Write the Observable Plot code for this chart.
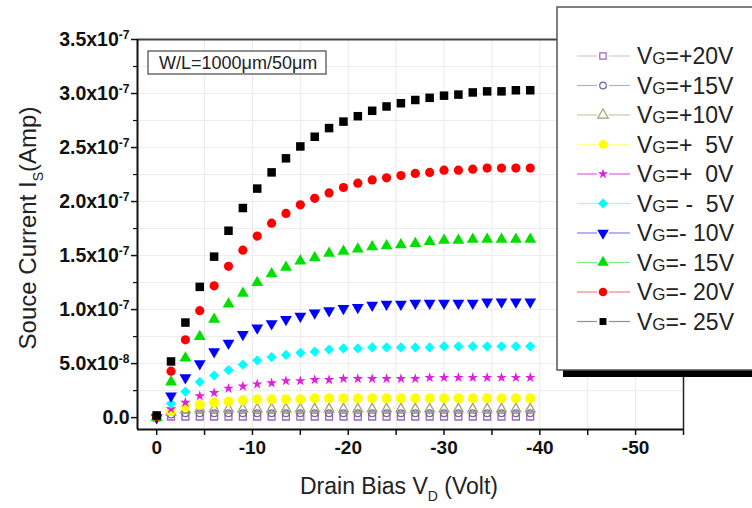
<!DOCTYPE html>
<html><head><meta charset="utf-8">
<script src="https://cdn.jsdelivr.net/npm/d3@7"></script>
<script src="https://cdn.jsdelivr.net/npm/@observablehq/plot@0.6"></script>
<style>
html,body{margin:0;padding:0;background:#fff;overflow:hidden;}
#chart{width:752px;height:508px;}
</style>
</head><body><div id="chart"></div>
<script>
// Drain bias (V)
const drainBias = [0,-1.5,-3,-4.5,-6,-7.5,-9,-10.5,-12,-13.5,-15,-16.5,-18,-19.5,-21,-22.5,-24,-25.5,-27,-28.5,-30,-31.5,-33,-34.5,-36,-37.5,-39];
// Source current, units of 1e-7 A
const vgP20 = [0.00,0.01,0.01,0.01,0.01,0.01,0.01,0.01,0.01,0.01,0.01,0.01,0.01,0.01,0.01,0.01,0.01,0.01,0.01,0.01,0.01,0.01,0.01,0.01,0.01,0.01,0.01];
const vgP15 = [0.00,0.03,0.04,0.04,0.04,0.04,0.04,0.04,0.04,0.04,0.04,0.04,0.04,0.04,0.04,0.04,0.04,0.04,0.04,0.04,0.04,0.04,0.04,0.04,0.04,0.04,0.04];
const vgP10 = [0.00,0.05,0.07,0.08,0.08,0.08,0.08,0.08,0.08,0.08,0.08,0.08,0.08,0.08,0.08,0.08,0.08,0.08,0.08,0.08,0.08,0.08,0.08,0.08,0.08,0.08,0.08];
const vgP5  = [0.00,0.06,0.10,0.12,0.14,0.15,0.16,0.17,0.17,0.17,0.17,0.18,0.18,0.18,0.18,0.18,0.18,0.18,0.18,0.18,0.18,0.18,0.18,0.18,0.18,0.18,0.18];
const vg0   = [0.00,0.08,0.14,0.20,0.23,0.27,0.29,0.31,0.32,0.34,0.34,0.35,0.35,0.36,0.36,0.36,0.36,0.36,0.36,0.37,0.37,0.37,0.37,0.37,0.37,0.37,0.37];
const vgM5  = [0.00,0.13,0.24,0.33,0.39,0.44,0.49,0.53,0.56,0.58,0.60,0.61,0.63,0.64,0.64,0.65,0.65,0.65,0.65,0.65,0.66,0.66,0.66,0.66,0.66,0.66,0.66];
const vgM10 = [0.00,0.20,0.37,0.50,0.61,0.69,0.77,0.83,0.87,0.91,0.94,0.97,0.99,1.01,1.02,1.04,1.05,1.05,1.06,1.06,1.06,1.06,1.06,1.07,1.07,1.07,1.07];
const vgM15 = [0.00,0.33,0.55,0.75,0.91,1.05,1.15,1.25,1.33,1.39,1.45,1.48,1.52,1.54,1.56,1.58,1.59,1.60,1.61,1.63,1.64,1.64,1.65,1.65,1.65,1.65,1.65];
const vgM20 = [0.01,0.43,0.72,0.99,1.22,1.40,1.55,1.68,1.80,1.89,1.97,2.03,2.08,2.13,2.17,2.20,2.22,2.24,2.26,2.27,2.29,2.29,2.30,2.31,2.31,2.31,2.31];
const vgM25 = [0.02,0.52,0.88,1.21,1.49,1.73,1.94,2.12,2.27,2.40,2.51,2.60,2.68,2.74,2.79,2.84,2.88,2.91,2.94,2.96,2.98,2.99,3.01,3.02,3.02,3.03,3.03];

const seriesValues = [vgP20, vgP15, vgP10, vgP5, vg0, vgM5, vgM10, vgM15, vgM20, vgM25];
const seriesNames  = ["+20V", "+15V", "+10V", "+  5V", "+  0V", " -  5V", "- 10V", "- 15V", "- 20V", "- 25V"];

const xTicks = [0,-5,-10,-15,-20,-25,-30,-35,-40,-45,-50,-55];
const xTickLabels = ["0","","-10","","-20","","-30","","-40","","-50",""];
const yTicks = [0,0.5,1.0,1.5,2.0,2.5,3.0,3.5];
const yMinorTicks = [0.25,0.75,1.25,1.75,2.25,2.75,3.25];
const yTickLabels = ["0.0","5.0x10^-8","1.0x10^-7","1.5x10^-7","2.0x10^-7","2.5x10^-7","3.0x10^-7","3.5x10^-7"];
const yGrid = [0.25,0.5,0.75,1.0,1.25,1.5,1.75,2.0,2.25,2.5,2.75,3.0,3.25];
const xGrid = [-5,-10,-15,-20,-25,-30,-35,-40,-45,-50];
const xDomain = [2, -55];
const yDomain = [-0.11, 3.5];

// styles
const triangleDown = {
  draw(context, size) {
    const y = -Math.sqrt(size / (Math.sqrt(3) * 3));
    context.moveTo(0, -y * 2);
    context.lineTo(-Math.sqrt(3) * y, y);
    context.lineTo(Math.sqrt(3) * y, y);
    context.closePath();
  }
};
const styles = [
  {symbol: d3.symbolSquare, open: true, color: "#a068b0", line: "#d8c0e0", r: 3.9, lr: 3.6},
  {symbol: d3.symbolCircle, open: true, color: "#6a6aa8", line: "#b0b0d0", r: 3.4, lr: 3.3},
  {symbol: d3.symbolTriangle, open: true, color: "#a0a070", line: "#c8c8a8", r: 3.6, lr: 3.9},
  {symbol: d3.symbolCircle, open: false, color: "#ffff00", line: "#ffff90", r: 5.0, lr: 4.4},
  {symbol: d3.symbolStar, open: false, color: "#e020e0", line: "#e060e0", r: 3.3, lr: 3.2},
  {symbol: d3.symbolDiamond2, open: false, color: "#00ffff", line: "#90ffff", r: 4.6, lr: 4.6},
  {symbol: triangleDown, open: false, color: "#0000ff", line: "#8080f0", r: 4.4, lr: 4.3},
  {symbol: d3.symbolTriangle, open: false, color: "#00e000", line: "#80f080", r: 4.4, lr: 4.3},
  {symbol: d3.symbolCircle, open: false, color: "#ff0000", line: "#f08080", r: 4.6, lr: 4.3},
  {symbol: d3.symbolSquare, open: false, color: "#000000", line: "#909090", r: 4.8, lr: 3.9}
];

const table = seriesValues.map(vals => drainBias.map((x, i) => ({x, y: vals[i]})));
const yLabelMap = new Map(yTicks.map((v, i) => [v, yTickLabels[i]]));
const xLabelMap = new Map(xTicks.map((v, i) => [v, xTickLabels[i]]));

const dotMarks = table.map((data, k) => {
  const s = styles[k];
  return Plot.dot(data, {
    x: "x", y: "y", r: s.r, symbol: s.symbol,
    fill: s.open ? "none" : s.color,
    stroke: s.open ? s.color : "none",
    strokeWidth: s.open ? 1.3 : 0
  });
});

const plot = Plot.plot({
  width: 752, height: 508,
  marginLeft: 137, marginRight: 69, marginTop: 39, marginBottom: 79,
  style: {fontFamily: "'Liberation Sans', Arial, sans-serif", background: "white", color: "#111", overflow: "hidden"},
  x: {domain: xDomain, label: null},
  y: {domain: yDomain, label: null},
  marks: [
    Plot.gridX(xGrid, {stroke: "#e9e9e9", strokeOpacity: 1}),
    Plot.gridY(yGrid, {stroke: "#ececec", strokeOpacity: 1}),
    Plot.axisX(xTicks, {tickSize: 6, tickPadding: 5, fontSize: 19, fontWeight: "bold", strokeWidth: 1.5, tickFormat: d => xLabelMap.get(d) ?? ""}),
    Plot.axisY(yTicks, {tickSize: 6, tickPadding: 2, fontSize: 19.5, fontWeight: "bold", strokeWidth: 1.5, tickFormat: d => yLabelMap.get(d) ?? ""}),
    Plot.axisY(yMinorTicks, {tickSize: 4, strokeWidth: 1.2, tickFormat: () => ""}),
    ...dotMarks,
    Plot.ruleY([yDomain[1]], {stroke: "#444", strokeWidth: 2}),
    Plot.ruleX([xDomain[1]], {stroke: "#222", strokeWidth: 1.5}),
    Plot.ruleX([xDomain[0]], {stroke: "#111", strokeWidth: 2}),
    Plot.ruleY([yDomain[0]], {stroke: "#111", strokeWidth: 2})
  ]
});
document.getElementById("chart").appendChild(plot);

const svg = d3.select(plot);
// superscripts on y tick labels
svg.selectAll("text").each(function() {
  const t = d3.select(this);
  const s = t.text();
  if (s.includes("^")) {
    const [m, e] = s.split("^");
    t.text(null);
    t.append("tspan").text(m);
    t.append("tspan").attr("dy", "-0.55em").attr("font-size", "12px").text(e);
  }
});

const font = "'Liberation Sans', Arial, sans-serif";
// axis titles
const xt = svg.append("text").attr("x", 399).attr("y", 494).attr("text-anchor", "middle")
  .attr("font-family", font).attr("font-size", 23).attr("fill", "#222");
xt.append("tspan").text("Drain Bias V");
xt.append("tspan").attr("font-size", 14).attr("dy", 7).text("D");
xt.append("tspan").attr("dy", -7).text(" (Volt)");

const yt = svg.append("text").attr("transform", "translate(36,228) rotate(-90)").attr("text-anchor", "middle")
  .attr("font-family", font).attr("font-size", 24).attr("fill", "#222");
yt.append("tspan").text("Souce Current I");
yt.append("tspan").attr("font-size", 14).attr("dy", 7).text("S");
yt.append("tspan").attr("dy", -7).text("(Amp)");

// W/L annotation box
svg.append("rect").attr("x", 148).attr("y", 51).attr("width", 178).attr("height", 23)
  .attr("fill", "white").attr("stroke", "#555").attr("stroke-width", 1.3);
svg.append("text").attr("x", 159).attr("y", 69).attr("text-anchor", "start").attr("font-family", font).attr("font-size", 18)
  .attr("fill", "#222").text("W/L=1000\u03bcm/50\u03bcm");

// legend
const lg = svg.append("g");
lg.append("rect").attr("x", 563).attr("y", 13).attr("width", 260).attr("height", 364).attr("fill", "#000");
lg.append("rect").attr("x", 557).attr("y", 7).attr("width", 260).attr("height", 363)
  .attr("fill", "white").attr("stroke", "#555").attr("stroke-width", 1.5);
seriesNames.forEach((name, i) => {
  const s = styles[i];
  const cy = 56 + i * 29.5;
  lg.append("line").attr("x1", 577).attr("x2", 597).attr("y1", cy).attr("y2", cy).attr("stroke", s.line).attr("stroke-width", 1.2);
  lg.append("line").attr("x1", 609).attr("x2", 630).attr("y1", cy).attr("y2", cy).attr("stroke", s.line).attr("stroke-width", 1.2);
  lg.append("path").attr("transform", `translate(603,${cy})`)
    .attr("d", d3.symbol(s.symbol, s.lr * s.lr * Math.PI)())
    .attr("fill", s.open ? "white" : s.color)
    .attr("stroke", s.open ? s.color : "none").attr("stroke-width", 1.2);
  const t = lg.append("text").attr("x", 637).attr("y", cy + 8).attr("text-anchor", "start").attr("font-family", font)
    .attr("font-size", 23).attr("fill", "#222").style("white-space", "pre");
  t.append("tspan").text("V");
  t.append("tspan").attr("font-size", 17).text("G");
  t.append("tspan").text("=" + name);
});
</script>
</body></html>
